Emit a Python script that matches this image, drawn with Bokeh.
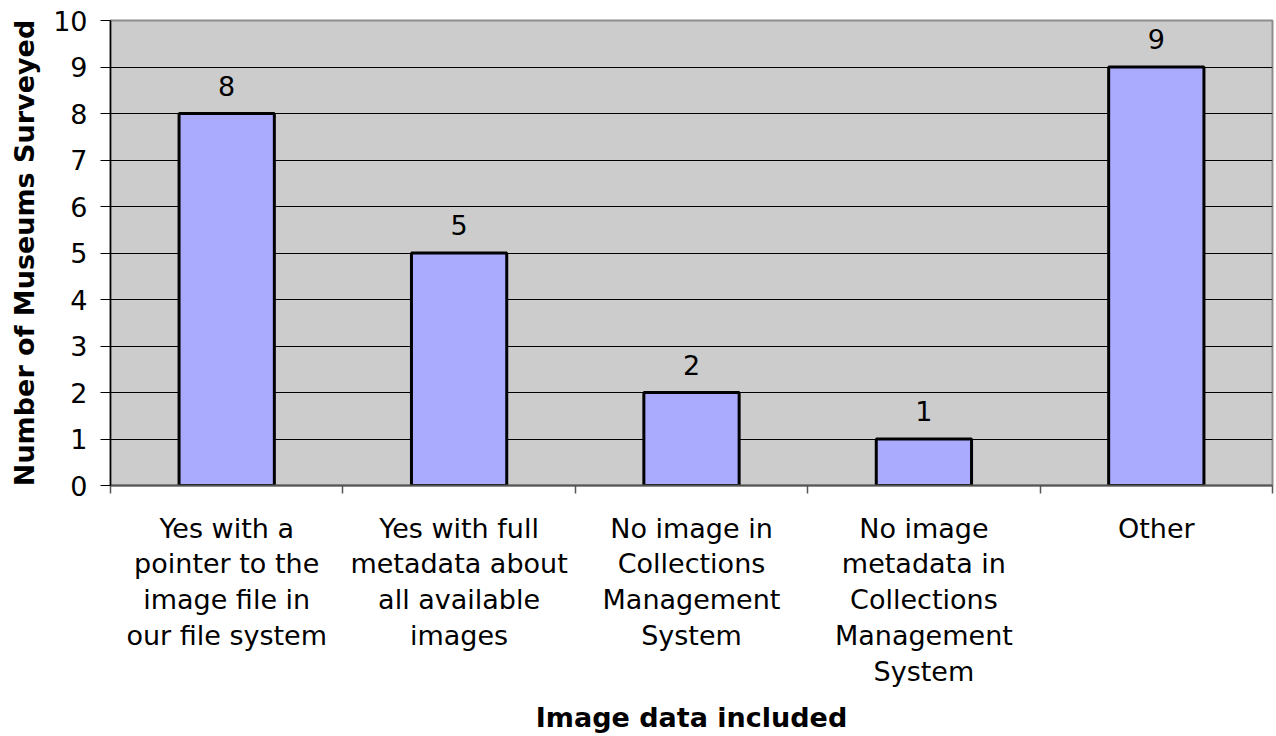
from bokeh.plotting import figure
from bokeh.models import ColumnDataSource, FixedTicker, LabelSet, Range1d
from bokeh.core.properties import value
from bokeh.embed import file_html
from bokeh.resources import INLINE

categories = [
    "Yes with a\npointer to the\nimage file in\nour file system",
    "Yes with full\nmetadata about\nall available\nimages",
    "No image in\nCollections\nManagement\nSystem",
    "No image\nmetadata in\nCollections\nManagement\nSystem",
    "Other",
]
counts = [8, 5, 2, 1, 9]
y_ticks = [0, 1, 2, 3, 4, 5, 6, 7, 8, 9, 10]

FONT = "DejaVu Sans"
FS = "27px"

xs = [i + 0.5 for i in range(len(categories))]
source = ColumnDataSource(dict(x=xs, top=counts, label=[str(c) for c in counts]))

p = figure(width=1276, height=736, output_backend="svg", toolbar_location=None,
           x_range=Range1d(0, len(categories)), y_range=Range1d(0, 10),
           min_border_left=110, min_border_top=20, min_border_right=4, min_border_bottom=250)

p.background_fill_color = "#cccccc"
p.border_fill_color = "white"
p.outline_line_color = "#8c8c8c"
p.outline_line_width = 2

p.vbar(x="x", top="top", width=0.41, source=source, fill_color="#aaaaff",
       line_color="black", line_width=3)

labels = LabelSet(x="x", y="top", text="label", source=source, y_offset=18,
                  text_align="center", text_baseline="alphabetic",
                  text_font=value(FONT), text_font_size=value(FS), text_color="black")
p.add_layout(labels)

# x axis
xa = p.xaxis[0]
xa.ticker = FixedTicker(ticks=xs, minor_ticks=list(range(len(categories) + 1)))
xa.major_label_overrides = {x: c for x, c in zip(xs, categories)}
xa.major_tick_out = 0
xa.major_tick_in = 0
xa.minor_tick_out = 8
xa.minor_tick_in = 0
xa.minor_tick_line_color = "#555555"
xa.minor_tick_line_width = 1.5
xa.axis_line_color = "#555555"
xa.axis_line_width = 2
xa.major_label_text_font = FONT
xa.major_label_text_font_size = FS
xa.major_label_text_color = "black"
xa.major_label_text_line_height = 1.16
xa.major_label_standoff = 19
xa.axis_label = "Image data included"
xa.axis_label_text_font = FONT
xa.axis_label_text_font_size = FS
xa.axis_label_text_font_style = "bold"
xa.axis_label_text_color = "black"
xa.axis_label_standoff = 12

# y axis
ya = p.yaxis[0]
ya.ticker = FixedTicker(ticks=y_ticks)
ya.minor_tick_line_color = None
ya.major_tick_out = 10
ya.major_tick_in = 0
ya.major_tick_line_color = "black"
ya.axis_line_color = "black"
ya.axis_line_width = 1.5
ya.major_label_text_font = FONT
ya.major_label_text_font_size = FS
ya.major_label_text_color = "black"
ya.major_label_standoff = 13
ya.axis_label = "Number of Museums Surveyed"
ya.axis_label_text_font = FONT
ya.axis_label_text_font_size = FS
ya.axis_label_text_font_style = "bold"
ya.axis_label_text_color = "black"
ya.axis_label_standoff = 10

p.xgrid.grid_line_color = None
p.ygrid.ticker = FixedTicker(ticks=y_ticks[1:-1])
p.ygrid.grid_line_color = "black"
p.ygrid.grid_line_width = 1

open("out.html", "w").write(file_html(p, INLINE))
